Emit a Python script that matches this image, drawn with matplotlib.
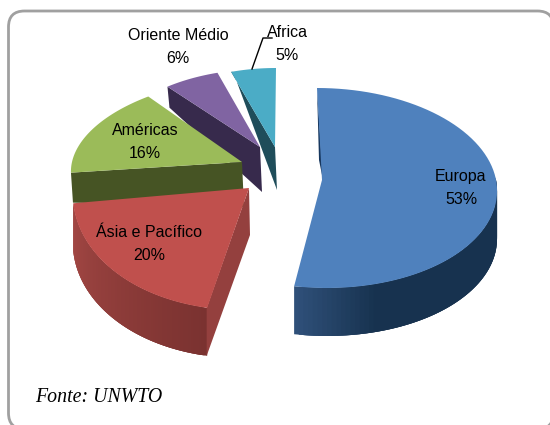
import numpy as np
from matplotlib import pyplot as plt
from matplotlib.colors import to_rgb
from matplotlib.patches import FancyBboxPatch

# slices, clockwise from 12 o'clock
regioes = ['Europa', 'Ásia e Pacífico', 'Américas', 'Oriente Médio', 'Africa']
percent = [53, 20, 16, 6, 5]

# per slice look of the fake 3D pie, in image pixels
apex = [(322, 180), (249, 188), (242, 162), (260, 147), (275, 147)]
centre = [(322, 188), (249, 188), (242, 162), (260, 146), (275, 147)]
rx = [175, 176, 170, 150, 145]
ry = [100, 122, 85, 77, 79]
shear = [-5, 9, 19, 4, 1]
depth = [48, 48, 45, 45, 43]
rim_depth = [48, 50, 30, 21, 0]
top_col = ['#4f81bd', '#c0504d', '#9bbb59', '#8064a2', '#4bacc6']
cut_col = ['#17375e', '#94403e', '#465424', '#372a4c', '#1f4d5a']
wall_a = ['#2f5079', '#a34744']
wall_b = ['#17324f', '#7a3230']
label_pos = [(461, 188), (149, 244), (145, 142), (178, 47), (287, 44)]

fig = plt.figure(figsize=(5.5, 4.25), dpi=100)
ax = fig.add_axes([0, 0, 1, 1])
ax.set_xlim(0, 550)
ax.set_ylim(425, 0)
ax.axis('off')

ax.add_patch(FancyBboxPatch((8.5, 11), 545, 418, boxstyle='round,pad=0,rounding_size=16',
                            fc='white', ec='#a0a0a0', lw=2))


def rim(i, ang):
    a = np.radians(ang)
    x = centre[i][0] + rx[i] * np.cos(a) + shear[i] * np.sin(a)
    y = centre[i][1] - ry[i] * np.sin(a)
    return x, y


def mix(c1, c2, t):
    c1, c2 = np.array(to_rgb(c1)), np.array(to_rgb(c2))
    return tuple(c1 + (c2 - c1) * t)


def draw_wall(i, angs):
    # outer wall as many small quads, overlapped so no seams show
    fx, fy = rim(i, angs)
    n = len(angs)
    for k in range(n - 1):
        t = k / (n - 2)
        if i == 0:
            c = mix(wall_a[i], wall_b[i], min(1, t * 4))
        else:
            c = mix(wall_b[i], wall_a[i], t)
        e = min(k + 3, n - 1)
        ax.fill([fx[k], fx[e], fx[e], fx[k]],
                [fy[k], fy[e], fy[e] + depth[i], fy[k] + depth[i]],
                color=c, lw=0)


def draw_slice(i, a0, a1):
    angs = np.linspace(a0, a1, 80)
    x, y = rim(i, angs)
    ax0, ay0 = apex[i]

    if i == 0:
        draw_wall(i, np.linspace(a1, 6, 70))
        ax.fill([x[0], ax0 + 1, ax0 - 3], [y[0], ay0, ay0 - 20], color=cut_col[i], lw=0)
    elif i == 1:
        draw_wall(i, angs)
        ax.fill([ax0, ax0 + 1, x[0] - 0.5, x[0] - 0.5],
                [ay0, ay0 + depth[i] - 1, y[0] + depth[i], y[0]],
                color=cut_col[i], lw=0)
    else:
        ax.fill([x[0], x[0] + 2, ax0 + 2, ax0],
                [y[0], y[0] + rim_depth[i], ay0 + depth[i], ay0],
                color=cut_col[i], lw=0)

    ax.fill(np.r_[ax0, x], np.r_[ay0, y], color=top_col[i], lw=0)


# Africa is furthest back, so go backwards through the list
ends = 90 - np.cumsum(percent) * 3.6
starts = np.r_[90, ends[:-1]]
for i in range(len(percent) - 1, -1, -1):
    draw_slice(i, starts[i], ends[i])

for i, nome in enumerate(regioes):
    ax.text(label_pos[i][0], label_pos[i][1], '%s\n%d%%' % (nome, percent[i]),
            ha='center', va='center', fontsize=11.5, family='Liberation Sans',
            color='black', linespacing=1.65, zorder=20)

# leader line for Africa
ax.plot([252, 263, 272], [69, 38, 38], color='black', lw=1, zorder=20)

ax.text(35, 398, 'Fonte: UNWTO', fontsize=14.3, family='Liberation Serif',
        style='italic', va='center', color='black', zorder=20)

fig.savefig('out.png', dpi=100)
